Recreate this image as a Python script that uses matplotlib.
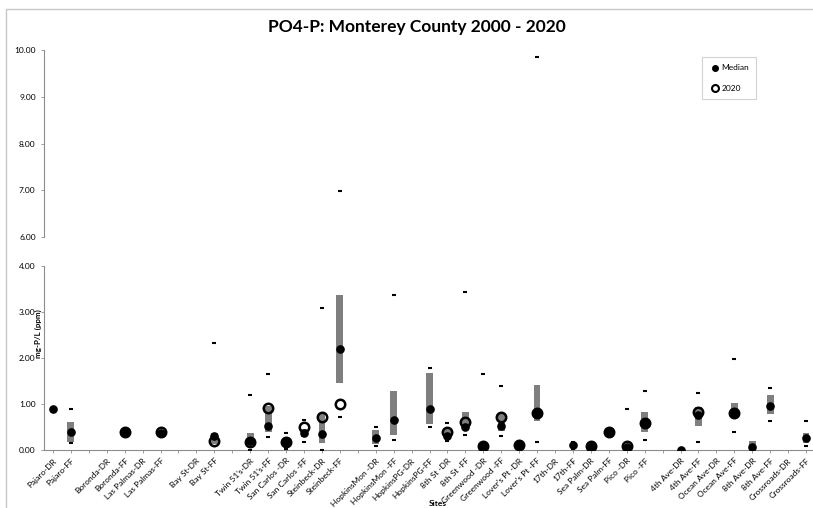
import matplotlib
matplotlib.use("Agg")
import matplotlib.pyplot as plt
import numpy as np
from matplotlib.lines import Line2D
from matplotlib.patches import Rectangle

nan = np.nan

# categories ('' = empty spacer slot)
sites = [
    "Pajaro-DR", "Pajaro-FF", "", "Boronda-DR", "Boronda-FF", "Las Palmas-DR",
    "Las Palmas-FF", "", "Bay St-DR", "Bay St-FF", "", "Twin 51's-DR",
    "Twin 51's-FF", "San Carlos -DR", "San Carlos -FF", "Steinbeck-DR",
    "Steinbeck-FF", "", "HopkinsMon -DR", "HopkinsMon -FF", "HopkinsPG-DR",
    "HopkinsPG-FF", "8th St -DR", "8th St -FF", "Greenwood -DR",
    "Greenwood -FF", "Lover's Pt -DR", "Lover's Pt -FF", "17th-DR", "17th-FF",
    "Sea Palm-DR", "Sea Palm-FF", "Pico -DR", "Pico -FF", "", "4th Ave-DR",
    "4th Ave-FF", "Ocean Ave-DR", "Ocean Ave-FF", "8th Ave-DR", "8th Ave-FF",
    "Crossroads-DR", "Crossroads-FF",
]

median = [0.90, 0.40, nan, nan, 0.40, nan, 0.37, nan, nan, 0.31, nan, 0.19,
          0.52, 0.18, 0.36, 0.35, 2.20, nan, 0.25, 0.66, nan, 0.90, 0.31, 0.51,
          0.09, 0.53, 0.10, 0.80, nan, 0.11, 0.09, 0.39, 0.07, 0.59, nan, 0.01,
          0.76, nan, 0.80, 0.06, 0.95, nan, 0.25]

val_2020 = [nan, nan, nan, nan, 0.40, nan, 0.39, nan, nan, 0.19, nan, 0.18,
            0.91, 0.18, 0.50, 0.71, 1.00, nan, nan, nan, nan, nan, 0.40, 0.60,
            0.09, 0.71, 0.10, 0.80, nan, nan, 0.09, 0.39, 0.09, 0.59, nan, nan,
            0.82, nan, 0.80, nan, nan, nan, nan]

q_low = [nan, 0.18, nan, nan, nan, nan, nan, nan, nan, 0.12, nan, 0.07,
         0.40, 0.13, 0.29, 0.15, 1.45, nan, 0.14, 0.33, nan, 0.56, 0.26, 0.43,
         nan, 0.42, nan, 0.63, nan, nan, nan, nan, nan, 0.40, nan, nan,
         0.53, nan, 0.72, 0.00, 0.78, nan, 0.16]

q_high = [nan, 0.60, nan, nan, nan, nan, nan, nan, nan, 0.37, nan, 0.36,
          0.95, 0.22, 0.45, 0.80, 3.37, nan, 0.43, 1.28, nan, 1.68, 0.45, 0.82,
          nan, 0.80, nan, 1.41, nan, nan, nan, nan, nan, 0.82, nan, nan,
          0.94, nan, 1.03, 0.19, 1.19, nan, 0.36]

v_min = [nan, 0.16, nan, nan, nan, nan, nan, nan, nan, 0.09, nan, 0.01,
         0.29, 0.02, 0.17, 0.01, 0.71, nan, 0.09, 0.21, nan, 0.51, 0.20, 0.33,
         nan, 0.30, nan, 0.17, nan, 0.02, nan, nan, nan, 0.22, nan, nan,
         0.17, nan, 0.39, nan, 0.64, nan, 0.09]

v_max = [nan, 0.89, nan, nan, nan, nan, nan, nan, nan, 2.33, nan, 1.19,
         1.66, 0.36, 0.65, 3.09, 6.98, nan, 0.49, 3.37, nan, 1.78, 0.59, 3.42,
         1.65, 1.39, 0.20, 9.85, nan, 0.18, nan, nan, 0.89, 1.29, nan, nan,
         1.24, nan, 1.98, nan, 1.35, nan, 0.62]

plt.rcParams["font.family"] = ["Lato", "DejaVu Sans"]

W, H = 813, 508
fig = plt.figure(figsize=(W / 100, H / 100), dpi=100)
fig.patch.set_facecolor("white")

# chart area border (clipped at right / bottom)
fig.patches.append(Rectangle((6 / W, -0.1), 1.2, 1.1 - 9 / H, transform=fig.transFigure,
                             fill=False, edgecolor="#c8c8c8", lw=1.0))

left = 44 / W
width = 771 / W
ax_lo = fig.add_axes([left, 1 - 450 / H, width, (450 - 265.7) / H])
ax_hi = fig.add_axes([left, 1 - 237 / H, width, (237 - 50) / H], sharex=ax_lo)

x = np.arange(len(sites))
med = np.array(median, dtype=float)
y20 = np.array(val_2020, dtype=float)
lo = np.array(q_low, dtype=float)
hi = np.array(q_high, dtype=float)
mn = np.array(v_min, dtype=float)
mx = np.array(v_max, dtype=float)

axis_col = "#8c8c8c"
for ax in (ax_lo, ax_hi):
    ax.bar(x, hi - lo, bottom=lo, width=0.38, color="#7f7f7f", zorder=2)
    ax.plot(x, mn, ls="none", marker="_", ms=3.2, mew=1.5, color="black", zorder=3)
    ax.plot(x, mx, ls="none", marker="_", ms=3.2, mew=1.5, color="black", zorder=3)
    ax.plot(x, y20, ls="none", marker="o", ms=6.8, mfc="none", mec="black", mew=1.8, zorder=4)
    ax.plot(x, med, ls="none", marker="o", ms=5.2, color="black", zorder=5)
    for s in ("top", "right"):
        ax.spines[s].set_visible(False)
    ax.spines["left"].set_color(axis_col)
    ax.tick_params(axis="y", labelsize=6, length=2, width=0.6, color=axis_col, pad=4)

ax_lo.set_xlim(-0.5, len(sites) - 0.5)
ax_lo.set_ylim(0, 4)
ax_lo.set_yticks([0, 1, 2, 3, 4])
ax_lo.set_yticklabels([f"{v:.2f}" for v in [0, 1, 2, 3, 4]])
ax_lo.spines["bottom"].set_color(axis_col)
ax_lo.set_xticks(x)
ax_lo.set_xticklabels(sites, rotation=45, ha="right", rotation_mode="anchor", fontsize=6.0)
ax_lo.tick_params(axis="x", length=2, width=0.6, color=axis_col, pad=3)

ax_hi.set_ylim(6, 10)
ax_hi.set_yticks([6, 7, 8, 9, 10])
ax_hi.set_yticklabels([f"{v:.2f}" for v in [6, 7, 8, 9, 10]])
ax_hi.spines["bottom"].set_visible(False)
ax_hi.tick_params(axis="x", bottom=False, labelbottom=False)
ax_hi.patch.set_alpha(0)

fig.text(438 / W, 1 - 503 / H, "Sites", fontsize=6, fontweight="bold",
         ha="center", va="center")
fig.text(38 / W, 1 - 334 / H, "mg-P/L (ppm)", rotation=90, fontsize=5.8,
         fontweight="bold", ha="center", va="center")
fig.text(417 / W, 1 - 27 / H, "PO4-P: Monterey County 2000 - 2020", fontsize=12.5,
         fontweight="bold", ha="center", va="center")

handles = [
    Line2D([], [], ls="none", marker="o", ms=4, color="black", label="Median"),
    Line2D([], [], ls="none", marker="o", ms=5, mfc="none", mec="black", mew=1.5, label="2020"),
]
leg = fig.legend(handles=handles, loc="upper left", bbox_to_anchor=(702 / W, 1 - 57 / H),
                 fontsize=6, frameon=True, fancybox=False, labelspacing=1.6,
                 handletextpad=0.2, handlelength=1.2, borderpad=0.9, borderaxespad=0)
leg.get_frame().set_edgecolor("#c8c8c8")
leg.get_frame().set_linewidth(0.8)

fig.savefig("out.png", dpi=100)
